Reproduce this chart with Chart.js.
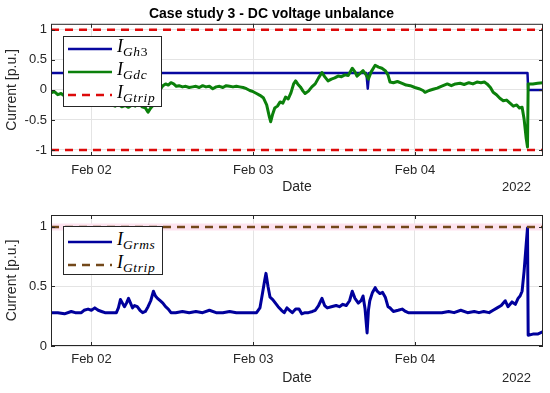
<!DOCTYPE html>
<html>
<head>
<meta charset="utf-8">
<script src="https://cdn.jsdelivr.net/npm/chart.js@4.4.0/dist/chart.umd.min.js"></script>
<style>
html,body{margin:0;padding:0;background:#fff;}
body{width:550px;height:393px;overflow:hidden;position:relative;font-family:"Liberation Sans",Arial,sans-serif;}
canvas{position:absolute;left:0;}
#c1{top:0;}
#c2{top:200px;}
.lg{position:absolute;background:#fff;border:1px solid #262626;box-sizing:border-box;}
.row{position:absolute;left:0;width:100%;height:24px;}
.row svg{position:absolute;left:4px;top:7px;}
.row .m{position:absolute;left:53px;top:-3px;height:24px;line-height:24px;white-space:nowrap;font-family:"Liberation Serif","Times New Roman",serif;font-style:italic;font-size:18px;color:#000;}
.row .m sub{font-size:13.5px;vertical-align:-4px;line-height:0;letter-spacing:0.6px;}
.row .m sub .u{font-style:normal;}
</style>
</head>
<body>
<canvas id="c1" width="550" height="200"></canvas>
<canvas id="c2" width="550" height="193"></canvas>
<div class="lg" id="lg1" style="left:63px;top:36px;width:99px;height:71px;"></div>
<div class="lg" id="lg2" style="left:63px;top:226px;width:100px;height:49px;"></div>
<script>
// ---------------- data ----------------
// x values are hours counted from Feb 01 2022 00:00
const xRange = [18, 91];
const xTickHours = [24, 48, 72];
const xTickLabels = ['Feb 02', 'Feb 03', 'Feb 04'];
const yearLabel = '2022';
const yTicksTop = [-1, -0.5, 0, 0.5, 1];
const yTicksBottom = [0, 0.5, 1];
const tripLevels = [1, -1];

const gh3Series = [
  [18, 0.28], [40, 0.28], [64.8, 0.28], [65.0, 0.02], [65.2, 0.28],
  [80, 0.28], [88.7, 0.28], [88.8, 0.0], [91, 0.0]
];

const gdcSeries = [
  [18.0,-0.05],[18.5,-0.03],[19.0,-0.08],[19.5,-0.06],[20.0,-0.1],[21.0,-0.12],[22.0,-0.15],
  [23.0,-0.13],[24.0,-0.18],[25.0,-0.2],[26.0,-0.22],[27.0,-0.25],[27.5,-0.27],[28.0,-0.24],
  [28.5,-0.28],[29.0,-0.26],[29.5,-0.29],[30.0,-0.25],[30.5,-0.27],[31.0,-0.23],[31.5,-0.28],
  [32.0,-0.3],[32.4,-0.37],[32.8,-0.3],[33.2,-0.25],[33.6,-0.18],[34.0,-0.05],[34.3,0.02],
  [34.6,0.07],[35.0,0.1],[35.4,0.08],[35.8,0.12],[36.2,0.1],[36.6,0.06],[37.0,0.07],[37.5,0.05],
  [38.0,0.06],[38.5,0.04],[39.0,0.05],[39.5,0.06],[40.0,0.04],[40.5,0.07],[41.0,0.05],[41.5,0.06],
  [42.0,0.02],[42.5,0.05],[43.0,0.06],[43.5,0.04],[44.0,0.07],[44.5,0.06],[45.0,0.05],[45.5,0.06],
  [46.0,0.05],[46.5,0.04],[47.0,0.02],[47.5,-0.01],[48.0,-0.03],[48.5,-0.06],[49.0,-0.09],
  [49.5,-0.13],[50.0,-0.25],[50.4,-0.45],[50.6,-0.53],[50.9,-0.4],[51.2,-0.3],[51.6,-0.27],
  [52.0,-0.2],[52.4,-0.22],[52.8,-0.12],[53.2,-0.15],[53.6,-0.05],[54.0,0.1],[54.3,0.15],
  [54.6,0.1],[55.0,0.05],[55.4,-0.02],[55.7,-0.06],[56.2,-0.02],[56.7,0.05],[57.2,0.1],
  [57.7,0.2],[58.2,0.29],[58.6,0.22],[59.1,0.15],[59.6,0.18],[60.1,0.2],[60.6,0.23],[61.1,0.22],
  [61.6,0.25],[62.1,0.24],[62.7,0.36],[63.1,0.3],[63.4,0.23],[63.9,0.28],[64.3,0.32],[64.7,0.26],
  [65.1,0.18],[65.5,0.3],[66.1,0.41],[66.6,0.38],[67.1,0.36],[67.6,0.32],[68.0,0.25],[68.3,0.13],
  [68.8,0.12],[69.4,0.14],[70.1,0.11],[70.7,0.08],[71.3,0.07],[72.0,0.04],[72.6,0.02],[73.2,-0.01],
  [73.5,-0.04],[74.1,-0.01],[74.7,0.01],[75.3,0.03],[75.9,0.06],[76.8,0.1],[77.4,0.07],[78.0,0.1],
  [78.7,0.11],[79.3,0.09],[80.0,0.12],[80.6,0.1],[81.2,0.13],[81.8,0.12],[82.3,0.13],[82.7,0.1],
  [83.2,0.04],[83.6,-0.04],[84.1,-0.08],[84.6,-0.14],[85.1,-0.18],[85.6,-0.17],[86.1,-0.22],
  [86.6,-0.27],[87.1,-0.25],[87.5,-0.3],[87.9,-0.29],[88.2,-0.49],[88.5,-0.8],[88.7,-0.95],
  [88.8,0.1],[89.5,0.1],[90.2,0.11],[91.0,0.12]
];

const grmsSeries = [
  [18,0.28],[19,0.28],[20,0.27],[21,0.29],[21.6,0.28],[22.5,0.28],[22.9,0.3],[23.5,0.31],[24,0.3],
  [24.5,0.32],[25,0.3],[25.5,0.29],[26,0.28],[27,0.28],[27.7,0.28],[28,0.32],[28.3,0.39],[28.6,0.36],
  [28.9,0.33],[29.2,0.36],[29.5,0.4],[29.8,0.36],[30.1,0.32],[30.4,0.34],[30.8,0.33],[31.2,0.3],
  [31.6,0.28],[32,0.29],[32.4,0.33],[32.8,0.38],[33.2,0.46],[33.5,0.42],[33.8,0.4],[34.2,0.38],
  [34.6,0.36],[35,0.33],[35.4,0.31],[35.8,0.28],[36.5,0.28],[37.5,0.29],[38.5,0.28],[39.5,0.29],
  [40.5,0.28],[41.5,0.3],[42.5,0.28],[43.5,0.28],[44.5,0.29],[45.5,0.28],[46.5,0.28],[47.5,0.28],
  [48.5,0.28],[49,0.32],[49.4,0.45],[49.7,0.55],[49.9,0.61],[50.2,0.5],[50.5,0.41],[50.9,0.39],
  [51.3,0.36],[51.7,0.33],[52.2,0.3],[52.6,0.28],[53,0.32],[53.4,0.3],[53.8,0.28],[54.3,0.31],
  [54.8,0.31],[55.2,0.27],[55.7,0.28],[56.2,0.28],[56.8,0.29],[57.2,0.3],[57.7,0.34],[58.2,0.4],
  [58.6,0.34],[59.0,0.32],[59.6,0.33],[60.3,0.34],[60.8,0.33],[61.3,0.35],[61.8,0.34],[62.3,0.38],
  [62.7,0.46],[63.1,0.4],[63.6,0.36],[64.0,0.38],[64.3,0.42],[64.6,0.31],[64.9,0.11],[65.1,0.3],
  [65.3,0.38],[65.7,0.45],[66.1,0.49],[66.4,0.46],[66.8,0.44],[67.2,0.45],[67.6,0.41],[68.0,0.33],
  [68.3,0.32],[68.8,0.29],[69.5,0.3],[70.1,0.31],[70.6,0.29],[71.0,0.28],[72,0.28],[73.5,0.28],
  [75,0.28],[76,0.28],[77,0.29],[77.8,0.28],[78.8,0.3],[79.8,0.28],[80.8,0.29],[81.5,0.28],
  [82.2,0.29],[83,0.28],[83.6,0.3],[84.2,0.32],[84.8,0.34],[85.4,0.38],[85.8,0.33],[86.4,0.37],
  [86.9,0.35],[87.3,0.4],[87.6,0.42],[87.9,0.46],[88.2,0.63],[88.5,0.85],[88.7,0.99],[88.8,0.09],
  [89.5,0.1],[90.2,0.1],[91,0.12]
];

// ---------------- style ----------------
const FONT = '"Liberation Sans", Arial, Helvetica, sans-serif';
const TXT = '#262626';
const GRID = '#e4e4e4';
const C_GH3 = '#0808a0';
const C_GDC = '#0b800b';
const C_TRIP_TOP = '#dd0a0a';
const C_GRMS = '#00009c';
const C_TRIP_BOT = '#73481a';
const C_BAND = '#fde3ef';

const toXY = s => s.map(p => ({x: p[0], y: p[1]}));
const flat = v => [{x: xRange[0], y: v}, {x: xRange[1], y: v}];

const boxPlugin = {
  id: 'boxPlugin',
  afterDraw(chart, args, opts) {
    const {ctx, chartArea: a, scales} = chart;
    ctx.save();
    ctx.strokeStyle = '#262626';
    ctx.lineWidth = 1;
    ctx.strokeRect(a.left + 0.5, a.top + 0.5, a.right - a.left - 1, a.bottom - a.top - 1);
    ctx.beginPath();
    const tl = 4;
    scales.x.ticks.forEach(t => {
      const px = Math.round(scales.x.getPixelForValue(t.value)) + 0.5;
      ctx.moveTo(px, a.bottom); ctx.lineTo(px, a.bottom - tl);
      ctx.moveTo(px, a.top); ctx.lineTo(px, a.top + tl);
    });
    scales.y.ticks.forEach(t => {
      const py = Math.round(scales.y.getPixelForValue(t.value)) + 0.5;
      ctx.moveTo(a.left, py); ctx.lineTo(a.left + tl, py);
      ctx.moveTo(a.right, py); ctx.lineTo(a.right - tl, py);
    });
    ctx.stroke();
    // year label under the date axis
    ctx.fillStyle = TXT;
    ctx.font = '13px ' + FONT;
    ctx.textAlign = 'right';
    ctx.textBaseline = 'middle';
    ctx.fillText(yearLabel, 531, opts.yearY);
    ctx.restore();
  }
};

function makeOptions(cfg) {
  return {
    responsive: false,
    animation: false,
    devicePixelRatio: 1,
    layout: {padding: {left: 0, right: 7, top: cfg.layoutTop, bottom: 0}},
    elements: {point: {radius: 0, hoverRadius: 0}, line: {tension: 0, borderJoinStyle: 'round', capBezierPoints: false}},
    plugins: {
      legend: {display: false},
      tooltip: {enabled: false},
      title: cfg.title ? {
        display: true, text: cfg.title, color: '#000',
        font: {family: FONT, size: 14, weight: 'bold', lineHeight: 1.2},
        padding: {top: 6, bottom: 1}
      } : {display: false},
      boxPlugin: {yearY: cfg.yearY}
    },
    scales: {
      x: {
        type: 'linear', min: xRange[0], max: xRange[1],
        afterBuildTicks: s => { s.ticks = xTickHours.map(v => ({value: v})); },
        afterFit: s => { s.height = cfg.xAxisHeight; },
        grid: {color: GRID, drawTicks: false, lineWidth: 1},
        border: {display: false},
        ticks: {
          padding: cfg.tickPad, maxRotation: 0, autoSkip: false, color: TXT,
          font: {family: FONT, size: 13, lineHeight: 1.2},
          callback: v => xTickLabels[xTickHours.indexOf(v)]
        },
        title: {display: true, text: 'Date', color: TXT, font: {family: FONT, size: 14, lineHeight: 1.2}, padding: {top: 0, bottom: cfg.titlePadBottom}}
      },
      y: {
        min: cfg.yMin, max: cfg.yMax,
        afterBuildTicks: s => { s.ticks = cfg.yTicks.map(v => ({value: v})); },
        afterFit: s => { s.width = 51; },
        grid: {color: GRID, drawTicks: false, lineWidth: 1},
        border: {display: false},
        ticks: {padding: 4, color: TXT, font: {family: FONT, size: 13, lineHeight: 1.2}, callback: v => String(v)},
        title: {display: true, text: 'Current [p.u.]', color: TXT, font: {family: FONT, size: 14, lineHeight: 1.2}, padding: {top: 4, bottom: 0}}
      }
    }
  };
}

// ---------------- top chart ----------------
new Chart(document.getElementById('c1'), {
  type: 'line',
  data: {
    datasets: [
      {label: 'I_Gh3', data: toXY(gh3Series), borderColor: C_GH3, borderWidth: 2.5, order: 3},
      {label: 'I_Gdc', data: toXY(gdcSeries), borderColor: C_GDC, borderWidth: 3, order: 2},
      {label: 'I_Gtrip', data: flat(tripLevels[0]), borderColor: C_TRIP_TOP, borderWidth: 2.5, borderDash: [8, 6], order: 1},
      {label: 'I_Gtrip_low', data: flat(tripLevels[1]), borderColor: C_TRIP_TOP, borderWidth: 2.5, borderDash: [8, 6], order: 1}
    ]
  },
  options: makeOptions({title: 'Case study 3 - DC voltage unbalance', layoutTop: 0, xAxisHeight: 44, tickPad: 7, titlePadBottom: 4, yMin: -1.1, yMax: 1.1, yTicks: yTicksTop, yearY: 187.5}),
  plugins: [boxPlugin]
});

// ---------------- bottom chart ----------------
new Chart(document.getElementById('c2'), {
  type: 'line',
  data: {
    datasets: [
      {label: 'band', data: flat(tripLevels[0]), borderColor: C_BAND, borderWidth: 7, order: 5},
      {label: 'I_Grms', data: toXY(grmsSeries), borderColor: C_GRMS, borderWidth: 3, order: 3},
      {label: 'I_Gtrip', data: flat(tripLevels[0]), borderColor: C_TRIP_BOT, borderWidth: 2.5, borderDash: [8, 6], order: 1}
    ]
  },
  options: makeOptions({title: null, layoutTop: 15, xAxisHeight: 47, tickPad: 6, titlePadBottom: 6, yMin: 0, yMax: 1.1, yTicks: yTicksBottom, yearY: 178.3}),
  plugins: [boxPlugin]
});

// ---------------- legends ----------------
const legendTop = [
  {html: '<i>I</i><sub><i>Gh</i><span class="u">3</span></sub>', color: C_GH3, dash: null, cy: 12},
  {html: '<i>I</i><sub><i>Gdc</i></sub>', color: C_GDC, dash: null, cy: 34.5},
  {html: '<i>I</i><sub><i>Gtrip</i></sub>', color: C_TRIP_TOP, dash: '8 6', cy: 58}
];
const legendBottom = [
  {html: '<i>I</i><sub><i>Grms</i></sub>', color: C_GRMS, dash: null, cy: 14.7},
  {html: '<i>I</i><sub><i>Gtrip</i></sub>', color: C_TRIP_BOT, dash: '8 6', cy: 38}
];
function buildLegend(id, items) {
  const box = document.getElementById(id);
  items.forEach(it => {
    const row = document.createElement('div');
    row.className = 'row';
    row.style.top = (it.cy - 12) + 'px';
    const dashAttr = it.dash ? ' stroke-dasharray="' + it.dash + '"' : '';
    row.innerHTML = '<svg width="44" height="10"><line x1="0" y1="5" x2="44" y2="5" stroke="' + it.color + '" stroke-width="2.5"' + dashAttr + '/></svg><span class="m">' + it.html + '</span>';
    box.appendChild(row);
  });
}
buildLegend('lg1', legendTop);
buildLegend('lg2', legendBottom);
</script>
</body>
</html>
